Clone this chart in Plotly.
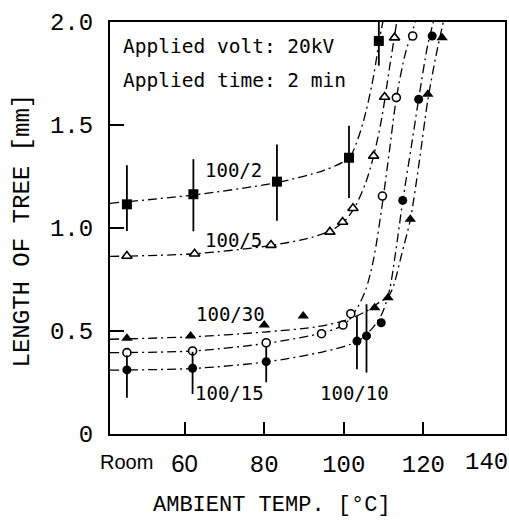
import plotly.graph_objects as go

# ---------------- data ----------------
ROOM = 45.5  # x position used for the "Room" temperature column

# 100/2  (filled squares)
x_2 = [ROOM, 62.2, 83.2, 101.3, 108.8]
y_2 = [1.115, 1.164, 1.225, 1.341, 1.908]
e2_up = [0.19, 0.17, 0.18, 0.155, 0.15]
e2_dn = [0.13, 0.18, 0.19, 0.195, 0.12]

# 100/5  (open triangles)
x_5 = [ROOM, 62.5, 81.7, 96.5, 99.7, 102.3, 107.5, 110.25, 112.75]
y_5 = [0.864, 0.875, 0.917, 0.981, 1.029, 1.096, 1.35, 1.636, 1.924]

# 100/10 (open circles)
x_10 = [ROOM, 62, 80.5, 94.4, 99.8, 101.75, 109.7, 113.2, 117.3]
y_10 = [0.395, 0.403, 0.443, 0.487, 0.529, 0.584, 1.155, 1.633, 1.932]

# 100/15 (filled circles)
x_15 = [ROOM, 62, 80.5, 103.3, 105.7, 109.4, 114.8, 118.8, 122.2]
y_15 = [0.311, 0.319, 0.351, 0.451, 0.476, 0.54, 1.134, 1.625, 1.932]
e15_up = [0.07, 0.08, 0.076, 0.12, 0.154, 0, 0, 0, 0]
e15_dn = [0.135, 0.125, 0.10, 0.137, 0.178, 0, 0, 0, 0]

# 100/30 (filled triangles)
x_30 = [ROOM, 61.5, 80, 89.8, 107.75, 111.1, 116.7, 121.1, 124.7]
y_30 = [0.465, 0.476, 0.529, 0.573, 0.613, 0.662, 1.042, 1.649, 1.924]

# hand-drawn fitted curves (knots)
cx_2 = [41.25, 62, 83, 95, 101.3, 103.5, 105.5, 107.5, 109, 109.8]
cy_2 = [1.12, 1.16, 1.22, 1.28, 1.34, 1.43, 1.56, 1.74, 1.92, 2.0]
cx_5 = [41.25, 62.5, 81.7, 92, 97, 100.5, 103, 105.5, 107.5, 109.5, 111.5, 113.3]
cy_5 = [0.862, 0.875, 0.915, 0.955, 0.99, 1.04, 1.11, 1.22, 1.35, 1.53, 1.78, 2.0]
cx_10 = [41.25, 62, 80.5, 94.4, 100, 103, 105.5, 107.5, 109.7, 111.5, 113.2, 115.5, 118]
cy_10 = [0.395, 0.403, 0.44, 0.49, 0.53, 0.6, 0.7, 0.85, 1.12, 1.38, 1.63, 1.85, 2.0]
cx_15 = [41.25, 62, 80.5, 95, 103.5, 107, 109.5, 111.5, 113, 114.8, 117, 119, 121, 122.5]
cy_15 = [0.31, 0.318, 0.35, 0.40, 0.45, 0.51, 0.58, 0.70, 0.88, 1.13, 1.4, 1.65, 1.88, 2.0]
cx_30 = [41.25, 62, 80, 93, 101, 106, 109, 111.1, 112.5, 114.5, 116.7, 118.8, 121.1, 123.3, 125]
cy_30 = [0.46, 0.472, 0.495, 0.52, 0.555, 0.6, 0.64, 0.665, 0.72, 0.87, 1.04, 1.3, 1.62, 1.85, 2.0]

x_ticks = [60, 80, 100, 120]
x_ticktext = ['<span style="font-family:Liberation Sans,Arial,sans-serif">60</span>', '80', '100', '120']
y_ticks = [0, 0.5, 1.0, 1.5, 2.0]
y_ticktext = ['0', '0.5', '1.0', '1.5', '2.0']

curve_labels = ['100/2', '100/5', '100/30', '100/15', '100/10']
label_x = [72.25, 72.25, 71.5, 71.25, 102.75]
label_y = [1.28, 0.94, 0.583, 0.20, 0.20]

# ---------------- figure ----------------
MONO = 'Courier New, Liberation Mono, Courier, monospace'
SANS_MONO = 'DejaVu Sans Mono'
DASH = '9px,4px,2px,4px'

fig = go.Figure()

for cx, cy in [(cx_2, cy_2), (cx_5, cy_5), (cx_10, cy_10), (cx_15, cy_15), (cx_30, cy_30)]:
    fig.add_trace(go.Scatter(x=cx, y=cy, mode='lines', line=dict(color='black', width=1.3, dash=DASH,
                                                                  shape='spline', smoothing=0.8),
                             hoverinfo='skip', showlegend=False))

err = dict(type='data', symmetric=False, width=0, thickness=1.8, color='black')

fig.add_trace(go.Scatter(x=x_2, y=y_2, mode='markers',
                         marker=dict(symbol='square', size=10, color='black'),
                         error_y=dict(err, array=e2_up, arrayminus=e2_dn), showlegend=False))
fig.add_trace(go.Scatter(x=x_5, y=y_5, mode='markers',
                         marker=dict(symbol='triangle-up', size=9, color='white', line=dict(color='black', width=1.6)),
                         showlegend=False))
fig.add_trace(go.Scatter(x=x_10, y=y_10, mode='markers',
                         marker=dict(symbol='circle', size=8, color='white', line=dict(color='black', width=1.6)),
                         showlegend=False))
fig.add_trace(go.Scatter(x=x_15, y=y_15, mode='markers',
                         marker=dict(symbol='circle', size=9, color='black'),
                         error_y=dict(err, array=e15_up, arrayminus=e15_dn), showlegend=False))
fig.add_trace(go.Scatter(x=x_30, y=y_30, mode='markers',
                         marker=dict(symbol='triangle-up', size=10, color='black'),
                         showlegend=False))

annotations = []
for t, lx, ly in zip(curve_labels, label_x, label_y):
    annotations.append(dict(x=lx, y=ly, xref='x', yref='y', text=t, showarrow=False,
                            font=dict(family=SANS_MONO, size=19, color='black'),
                            xanchor='center', yanchor='middle'))
annotations += [
    dict(x=44, y=1.88, xref='x', yref='y', text='Applied volt: 20kV', showarrow=False,
         font=dict(family=SANS_MONO, size=19.5, color='black'), xanchor='left', yanchor='middle'),
    dict(x=44, y=1.715, xref='x', yref='y', text='Applied time: 2 min', showarrow=False,
         font=dict(family=SANS_MONO, size=19.5, color='black'), xanchor='left', yanchor='middle'),
    dict(x=ROOM, y=-0.068, xref='x', yref='paper', text='Room', showarrow=False,
         font=dict(family='Liberation Sans, Arial, sans-serif', size=20, color='black'),
         xanchor='center', yanchor='middle'),
    dict(x=135.75, y=-0.068, xref='x', yref='paper', text='140', showarrow=False,
         font=dict(family=MONO, size=24, color='black'), xanchor='center', yanchor='middle'),
    dict(x=273, y=505, xref='paper', yref='paper', text='AMBIENT TEMP. [°C]', showarrow=False,
         font=dict(family=MONO, size=22, color='black'), xanchor='center', yanchor='middle'),
    dict(x=22, y=230, xref='paper', yref='paper', text='LENGTH OF TREE [mm]', showarrow=False,
         font=dict(family=MONO, size=24, color='black'), xanchor='center', yanchor='middle', textangle=-90),
]

# convert pixel-based paper annotations to paper coordinates
L, R, T, B = 110, 2, 22, 88
W, H = 509, 522
pw, ph = W - L - R, H - T - B
for a in annotations:
    if a['xref'] == 'paper' and a['yref'] == 'paper' and a['x'] > 2:
        a['x'] = (a['x'] - L) / pw
        a['y'] = 1 - (a['y'] - T) / ph

fig.update_layout(
    width=W, height=H,
    margin=dict(l=L, r=R, t=T, b=B),
    paper_bgcolor='white', plot_bgcolor='white',
    annotations=annotations,
    xaxis=dict(range=[41.25, 140.5], tickvals=x_ticks, ticktext=x_ticktext,
               ticks='inside', ticklen=12, tickwidth=2, tickcolor='black',
               showline=True, mirror=True, linecolor='black', linewidth=2,
               showgrid=False, zeroline=False, ticklabelstandoff=7,
               tickfont=dict(family=MONO, size=24, color='black')),
    yaxis=dict(range=[0, 2.0], tickvals=y_ticks, ticktext=y_ticktext,
               ticks='inside', ticklen=14, tickwidth=2, tickcolor='black',
               showline=True, mirror=True, linecolor='black', linewidth=2,
               showgrid=False, zeroline=False, ticklabelstandoff=10,
               tickfont=dict(family=MONO, size=24, color='black')),
)

fig.write_html('out.html')
